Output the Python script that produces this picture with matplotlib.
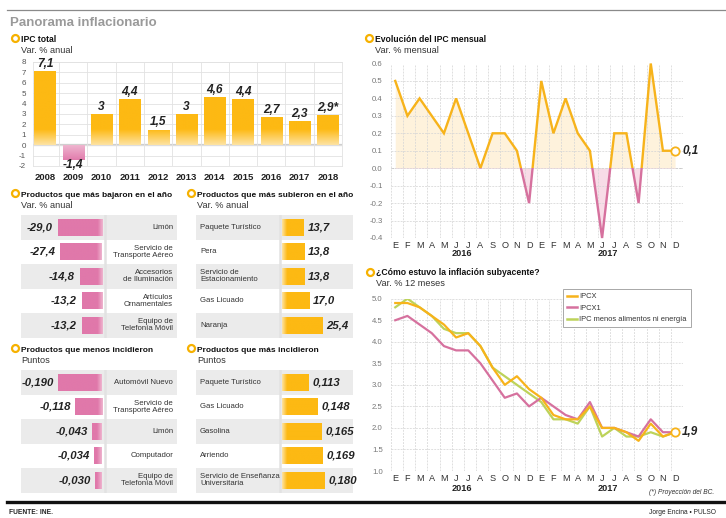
import numpy as np
import matplotlib
matplotlib.use('Agg')
import matplotlib.pyplot as plt
from matplotlib import font_manager
from matplotlib.patches import Rectangle
from matplotlib.colors import to_rgb
import matplotlib.transforms as mtrans

# ---------------- DATA ----------------
years = ['2008', '2009', '2010', '2011', '2012', '2013', '2014', '2015', '2016', '2017', '2018']
ipc_total = [7.1, -1.4, 3.0, 4.4, 1.5, 3.0, 4.6, 4.4, 2.7, 2.3, 2.9]
ipc_total_labels = ['7,1', '-1,4', '3', '4,4', '1,5', '3', '4,6', '4,4', '2,7', '2,3', '2,9*']

months = ['E', 'F', 'M', 'A', 'M', 'J', 'J', 'A', 'S', 'O', 'N', 'D'] * 2
month_years = ['2016', '2017']
ipc_mensual = [0.5, 0.3, 0.4, 0.3, 0.2, 0.4, 0.2, 0.0, 0.2, 0.2, 0.1, -0.2,
               0.5, 0.2, 0.4, 0.2, 0.1, -0.4, 0.2, 0.2, -0.2, 0.6, 0.1, 0.1]
ipc_mensual_last = '0,1'

ipcx = [4.9, 4.9, 4.8, 4.6, 4.4, 4.1, 4.2, 3.9, 3.4, 3.0, 3.2, 2.9,
        2.7, 2.3, 2.2, 2.2, 2.5, 2.0, 2.0, 1.9, 1.7, 2.1, 1.8, 1.9]
ipcx1 = [4.5, 4.6, 4.4, 4.2, 3.9, 3.8, 3.8, 3.5, 3.1, 2.7, 2.8, 2.5,
         2.7, 2.5, 2.3, 2.2, 2.6, 2.0, 2.0, 1.9, 1.8, 2.2, 1.9, 1.9]
ipc_sae = [4.8, 5.0, 4.8, 4.6, 4.3, 4.2, 4.2, 3.9, 3.4, 3.2, 3.0, 2.8,
           2.6, 2.2, 2.2, 2.1, 2.5, 1.8, 2.0, 1.8, 1.8, 1.9, 1.8, 1.9]
sub_names = ['IPCX', 'IPCX1', 'IPC menos alimentos ni energía']
sub_last = '1,9'

bajaron_names = ['Limón', 'Servicio de\nTransporte Aéreo', 'Accesorios\nde Iluminación',
                 'Artículos\nOrnamentales', 'Equipo de\nTelefonía Móvil']
bajaron_vals = [-29.0, -27.4, -14.8, -13.2, -13.2]
subieron_names = ['Paquete Turístico', 'Pera', 'Servicio de\nEstacionamiento', 'Gas Licuado', 'Naranja']
subieron_vals = [13.7, 13.8, 13.8, 17.0, 25.4]
menos_names = ['Automóvil Nuevo', 'Servicio de\nTransporte Aéreo', 'Limón', 'Computador',
               'Equipo de\nTelefonía Móvil']
menos_vals = [-0.190, -0.118, -0.043, -0.034, -0.030]
mas_names = ['Paquete Turístico', 'Gas Licuado', 'Gasolina', 'Arriendo',
             'Servicio de Enseñanza\nUniversitaria']
mas_vals = [0.113, 0.148, 0.165, 0.169, 0.180]

# ---------------- STYLE ----------------
ORANGE = '#FDB913'
ORANGE_L = '#FEE3A3'
PINK = '#E078AA'
PINK_L = '#EFB5CF'
PINK_LINE = '#D6719E'
GREEN = '#BDD35A'
GRID = '#e2e2e2'
TXT = '#222222'

names_avail = {f.name for f in font_manager.fontManager.ttflist}
HAS_NARROW = 'Liberation Sans Narrow' in names_avail
REG = ['Liberation Sans', 'DejaVu Sans']
NARROW = ['Liberation Sans Narrow', 'Liberation Sans', 'DejaVu Sans'] if HAS_NARROW else REG
NS = 1.0 if HAS_NARROW else 0.86   # scale for narrow text when unavailable
plt.rcParams['font.family'] = REG

W, H = 726, 518
fig = plt.figure(figsize=(W / 100, H / 100), dpi=100)
fig.patch.set_facecolor('white')

bg = fig.add_axes([0, 0, 1, 1])
bg.set_xlim(0, W)
bg.set_ylim(H, 0)
bg.axis('off')
bg.set_zorder(-5)


def px_axes(x0, y0, x1, y1):
    return fig.add_axes([x0 / W, 1 - y1 / H, (x1 - x0) / W, (y1 - y0) / H])


def bullet(x, y):
    bg.plot([x], [y], 'o', ms=5.0, mfc='white', mec='#F6B100', mew=1.6)


def header(x, y, title, sub, tsize=7.2):
    bullet(x - 6.5, y - 3.5)
    bg.text(x, y, title, fontsize=tsize * NS, weight='bold', family=NARROW, color='#111', va='baseline')
    bg.text(x, y + 11, sub, fontsize=6.6, color='#333', va='baseline')


def grad_fill(ax, patch, color, light, base, fade, vertical):
    x, y = patch.get_x(), patch.get_y()
    w, h = patch.get_width(), patch.get_height()
    x0, x1 = sorted([x, x + w])
    y0, y1 = sorted([y, y + h])
    n = 120
    c1 = np.array(to_rgb(color))
    c0 = np.array(to_rgb(light))
    if vertical:
        s = np.linspace(y0, y1, n)
        t = np.clip(np.abs(s - base) / fade, 0, 1)
        img = (c0 * (1 - t[:, None]) + c1 * t[:, None])[:, None, :]
    else:
        s = np.linspace(x0, x1, n)
        t = np.clip(np.abs(s - base) / fade, 0, 1)
        img = (c0 * (1 - t[:, None]) + c1 * t[:, None])[None, :, :]
    im = ax.imshow(img, extent=[x0, x1, y0, y1], origin='lower', aspect='auto',
                   interpolation='bilinear', zorder=patch.get_zorder() + 0.1)
    im.set_clip_path(patch)


# ---------------- frame lines / titles ----------------
bg.plot([7, 726], [9.5, 9.5], color='#8a8a8a', lw=0.9)
bg.plot([7, 726], [502, 502], color='#111', lw=2.4)
bg.text(10, 26, 'Panorama inflacionario', fontsize=9.5, weight='bold', color='#9a9a9a', va='baseline')
bg.text(9, 513.5, 'FUENTE: INE.', fontsize=4.8, weight='bold', color='#222', va='baseline')
bg.text(716, 513.5, 'Jorge Encina • PULSO', fontsize=4.8, color='#222', va='baseline', ha='right')

# ---------------- IPC total ----------------
header(21, 41.7, 'IPC total', 'Var. % anual')
ax1 = px_axes(32.8, 62, 342, 166)
xs = np.arange(len(years))
bars = ax1.bar(xs, ipc_total, width=0.75, color=[ORANGE if v >= 0 else PINK for v in ipc_total], zorder=2)
for b, v in zip(bars, ipc_total):
    grad_fill(ax1, b, ORANGE if v >= 0 else PINK, ORANGE_L if v >= 0 else PINK_L, 0, 1.5, True)
for x, v, lab in zip(xs, ipc_total, ipc_total_labels):
    ax1.annotate(lab, (x, v), xytext=(0, 1 if v >= 0 else 0.3), textcoords='offset points',
                 ha='center', va='bottom' if v >= 0 else 'top', fontsize=8.6,
                 weight='bold', style='italic', color=TXT)
ax1.axhline(0, color='#cfcfcf', lw=1.6, zorder=1.5)
ax1.set_xlim(-0.43, 10.5)
ax1.set_ylim(-2, 8)
ax1.set_yticks(range(-2, 9))
ax1.set_yticklabels([str(v) for v in range(-2, 9)])
ax1.set_xticks(xs)
ax1.set_xticklabels(years, fontsize=6.8, weight='bold', color='#222')
ax1.set_xticks(np.arange(0.5, 10, 1), minor=True)
ax1.grid(axis='y', color=GRID, lw=0.6, zorder=0)
ax1.grid(axis='x', which='minor', color=GRID, lw=0.6, zorder=0)
ax1.tick_params(axis='y', length=0, labelsize=5.8, labelcolor='#555', pad=5)
ax1.tick_params(axis='x', which='both', length=0, pad=5.2)
for s in ax1.spines.values():
    s.set_color(GRID)
    s.set_linewidth(0.6)


# ---------------- product panels ----------------
ROW = 24.5


def product_panel(x0, y0, x1, names, vals, xlim, neg, fmt, off, label_x):
    ax = px_axes(x0, y0, x1, y0 + 5 * ROW)
    ax.patch.set_alpha(0)
    for i in (0, 2, 4):
        ax.axhspan(i - 0.5, i + 0.5, color='#ebebeb', zorder=0, lw=0)
    color = PINK if neg else ORANGE
    light = PINK_L if neg else ORANGE_L
    scale = (x1 - x0) / (xlim[1] - xlim[0])
    shadow_x = (2.5 if neg else -2.5) / scale
    ax.axvline(shadow_x, color='#e2e2e2', lw=1.8, zorder=1)
    bs = ax.barh(range(len(vals)), vals, height=0.68, color=color, zorder=2)
    for b in bs:
        grad_fill(ax, b, color, light, 0, 5 / scale, False)
    for i, (v, n) in enumerate(zip(vals, names)):
        ax.annotate(fmt(v), (v, i), xytext=(-off if neg else off, 0), textcoords='offset points',
                    ha='right' if neg else 'left', va='center', fontsize=8.2,
                    weight='bold', style='italic', color=TXT)
        ax.text(label_x, i, n, transform=mtrans.blended_transform_factory(ax.transAxes, ax.transData),
                ha='right' if neg else 'left', va='center', fontsize=6.5 * NS, family=NARROW,
                color='#333', linespacing=1.05)
    ax.set_xlim(*xlim)
    ax.set_ylim(4.5, -0.5)
    ax.axis('off')
    return ax


def f1(v):
    return f'{v:.1f}'.replace('.', ',')


def f3(v):
    return f'{v:.3f}'.replace('.', ',')


header(21, 196.7, 'Productos que más bajaron en el año', 'Var. % anual', 7.05)
header(197, 196.7, 'Productos que más subieron en el año', 'Var. % anual', 7.05)
header(21, 351.7, 'Productos que menos incidieron', 'Puntos', 7.05)
header(197, 351.7, 'Productos que más incidieron', 'Puntos', 7.05)

product_panel(21, 215, 177, bajaron_names, bajaron_vals, (-81 / 1.52, 75 / 1.52), True, f1, 3.6, 0.975)
product_panel(196, 215, 353, subieron_names, subieron_vals, (-86 / 1.6, 71 / 1.6), False, f1, 2.5, 0.025)
product_panel(21, 370, 177, menos_names, menos_vals, (-81 / 231, 75 / 231), True, f3, 2.8, 0.975)
product_panel(196, 370, 353, mas_names, mas_vals, (-86 / 238, 71 / 238), False, f3, 2.8, 0.025)


# ---------------- monthly-type axes helper ----------------
def month_axes(y0, y1, ylim, yticks, yfmt, year_off):
    ax = px_axes(391, y0, 683, y1)
    ax.set_xlim(-0.35, 23.65)
    ax.set_ylim(*ylim)
    ax.set_yticks(yticks)
    ax.set_yticklabels([yfmt(v) for v in yticks])
    ax.set_xticks(range(24))
    ax.set_xticklabels(months, fontsize=6.6, color='#333')
    ax.set_xticks(np.arange(-0.35, 23.7, 1), minor=True)
    ax.grid(axis='y', color='#d6d6d6', lw=0.55, ls=(0, (2.5, 1.5)), zorder=0)
    ax.grid(axis='x', which='minor', color='#d6d6d6', lw=0.55, ls=(0, (2.5, 1.5)), zorder=0)
    ax.tick_params(axis='both', which='both', length=0)
    ax.tick_params(axis='y', labelsize=5.6, labelcolor='#777', pad=6)
    ax.tick_params(axis='x', pad=2.5)
    for s in ax.spines.values():
        s.set_visible(False)
    for k, yr in enumerate(month_years):
        ax.annotate(yr, (5.5 + 12 * k, 0), xycoords=('data', 'axes fraction'),
                    xytext=(0, year_off), textcoords='offset points', ha='center', va='center',
                    fontsize=6.6, weight='bold', color='#222')
    return ax


# ---------------- Evolución del IPC mensual ----------------
header(375, 41.7, 'Evolución del IPC mensual', 'Var. % mensual')
ax2 = month_axes(63.5, 238, (-0.4, 0.6), np.round(np.arange(-0.4, 0.61, 0.1), 1),
                 lambda v: f'{v:.1f}'.replace('-0.0', '0.0'), -11.2)
xm = np.arange(len(ipc_mensual))
vm = np.array(ipc_mensual)
ax2.axhline(0, color='#bdbdbd', lw=0.7, ls=(0, (2.5, 1.5)), zorder=0.5)
up = Rectangle((-5, 0), 40, 5, transform=ax2.transData)
dn = Rectangle((-5, -5), 40, 5, transform=ax2.transData)
f_up = ax2.fill_between(xm, vm, 0, color='#FEF2DC', lw=0, zorder=1)
f_up.set_clip_path(up)
f_dn = ax2.fill_between(xm, vm, 0, color='#F8DCE7', lw=0, zorder=1)
f_dn.set_clip_path(dn)
l_up, = ax2.plot(xm, vm, color='#F7B31B', lw=1.7, zorder=3, solid_joinstyle='miter')
l_up.set_clip_path(up)
l_dn, = ax2.plot(xm, vm, color=PINK_LINE, lw=1.7, zorder=3, solid_joinstyle='miter')
l_dn.set_clip_path(dn)
ax2.plot([xm[-1]], [vm[-1]], 'o', ms=6, mfc='white', mec='#F7B31B', mew=1.3, zorder=5, clip_on=False)
ax2.annotate(ipc_mensual_last, (xm[-1], vm[-1]), xytext=(5, 0), textcoords='offset points',
             ha='left', va='center', fontsize=8.4, weight='bold', style='italic', color=TXT)

# ---------------- Subyacente ----------------
header(376, 275, '¿Cómo estuvo la inflación subyacente?', 'Var. % 12 meses')
ax3 = month_axes(298.7, 471, (1.0, 5.0), np.arange(1.0, 5.01, 0.5),
                 lambda v: f'{v:.1f}', -12.5)
ax3.plot(xm, ipc_sae, color=GREEN, lw=1.6, zorder=3, label=sub_names[2])
ax3.plot(xm, ipcx1, color=PINK_LINE, lw=1.6, zorder=3, label=sub_names[1])
ax3.plot(xm, ipcx, color='#F7B31B', lw=1.6, zorder=4, label=sub_names[0])
ax3.plot([xm[-1]], [ipcx[-1]], 'o', ms=6, mfc='white', mec='#F7B31B', mew=1.3, zorder=5, clip_on=False)
ax3.annotate(sub_last, (xm[-1], ipcx[-1]), xytext=(5, 0), textcoords='offset points',
             ha='left', va='center', fontsize=8.4, weight='bold', style='italic', color=TXT)
h, l = ax3.get_legend_handles_labels()
order = [2, 1, 0]
leg = ax3.legend([h[i] for i in order], [l[i] for i in order], loc='upper left',
                 bbox_to_anchor=(563 / W, 1 - 289 / H), bbox_transform=fig.transFigure,
                 prop={'family': NARROW, 'size': 6.3 * NS},
                 frameon=True, fancybox=False, framealpha=1, edgecolor='#9a9a9a',
                 borderpad=0.55, labelspacing=0.55, handlelength=1.25, handletextpad=0.35,
                 borderaxespad=0)
leg.get_frame().set_linewidth(0.6)
for t in leg.get_texts():
    t.set_color('#333')
for ln in leg.get_lines():
    ln.set_linewidth(1.8)
bg.text(714, 494.5, '(*) Proyección del BC.', fontsize=5.6 * NS, family=NARROW, style='italic',
        color='#333', ha='right', va='baseline')

fig.savefig('out.png', dpi=100, facecolor='white')
